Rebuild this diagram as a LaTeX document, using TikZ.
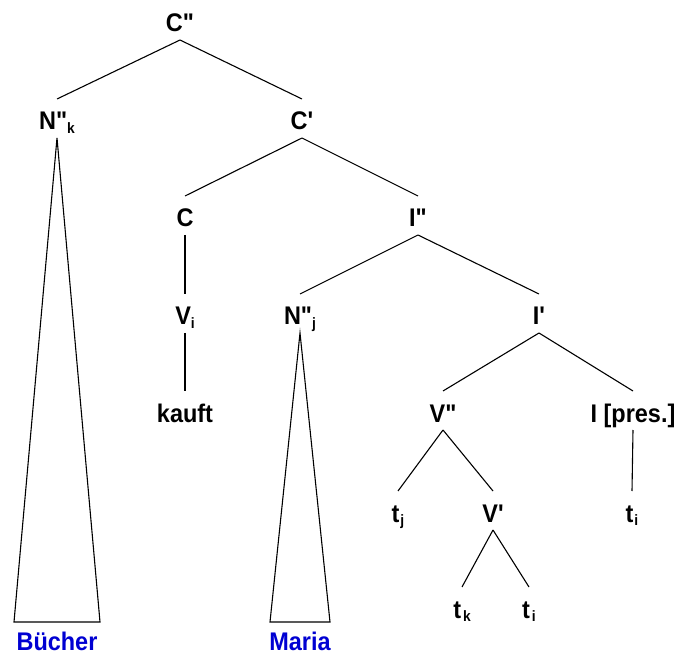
\documentclass[tikz,border=0pt]{standalone}
\usepackage{fontspec}
\newfontfamily\arb{Liberation Sans Bold}[FakeStretch=0.92]
\newcommand\sbs[1]{\raisebox{-3.5pt}{\fontsize{15}{15}\selectfont #1}}
\definecolor{lblue}{RGB}{0,0,210}
\begin{document}
\begin{tikzpicture}[x=1pt,y=-1pt,
  lab/.style={inner sep=0pt, outer sep=0pt, text height=31pt, text depth=8pt, anchor=base, font=\arb\fontsize{25.5}{25.5}\selectfont},
  leaf/.style={lab, text=lblue},
  edge/.style={line width=1.1pt, line join=miter}]
\useasboundingbox (0,0) rectangle (683,660);
% nodes (x = centre, y = baseline)
\node[lab] (Cpp) at (180,32) {C"};
\node[lab] (Nk) at (57,130) {N"\sbs{k}};
\node[lab] (Cp) at (302,130) {C'};
\node[lab] (C) at (185,227) {C};
\node[lab] (Ipp) at (418,227) {I"};
\node[lab] (Vi) at (185,325) {V\sbs{i}};
\node[lab] (Nj) at (300,325) {N"\sbs{j}};
\node[lab] (Ip) at (539,325) {I'};
\node[lab] (kauft) at (185,422) {kauft};
\node[lab] (Vpp) at (443,422) {V"};
\node[lab] (Ipres) at (633,422) {I [pres.]};
\node[lab] (tj) at (398,522) {t\kern1pt\sbs{j}};
\node[lab] (Vp) at (493,522) {V'};
\node[lab] (ti1) at (632,522) {t\kern1pt\sbs{i}};
\node[lab] (tk) at (462,618) {t\kern2pt\sbs{k}};
\node[lab] (ti2) at (529,618) {t\kern2pt\sbs{i}};
\node[leaf] (Buecher) at (57,650) {Bücher};
\node[leaf] (Maria) at (300,650) {Maria};
% triangle base corners
\coordinate (bk1) at (14,622);
\coordinate (bk2) at (100,622);
\coordinate (bj1) at (270,622);
\coordinate (bj2) at (330,622);
% edges
\draw[edge] (Cpp.south) -- (Nk.north);
\draw[edge] (Cpp.south) -- (Cp.north);
\draw[edge] (Cp.south) -- (C.north);
\draw[edge] (Cp.south) -- (Ipp.north);
\draw[edge] (C.south) -- (Vi.north);
\draw[edge] (Vi.south) -- (kauft.north);
\draw[edge] (Ipp.south) -- (Nj.north);
\draw[edge] (Ipp.south) -- (Ip.north);
\draw[edge] (Ip.south) -- (Vpp.north);
\draw[edge] (Ip.south) -- (Ipres.north);
\draw[edge] (Vpp.south) -- (tj.north);
\draw[edge] (Vpp.south) -- (Vp.north);
\draw[edge] (Vp.south) -- (tk.north);
\draw[edge] (Vp.south) -- (ti2.north);
\draw[edge] (Ipres.south) -- (ti1.north);
% triangles
\draw[edge] (Nk.south) -- (bk1) -- (bk2) -- cycle;
\draw[edge] (Nj.south) -- (bj1) -- (bj2) -- cycle;
\end{tikzpicture}
\end{document}
